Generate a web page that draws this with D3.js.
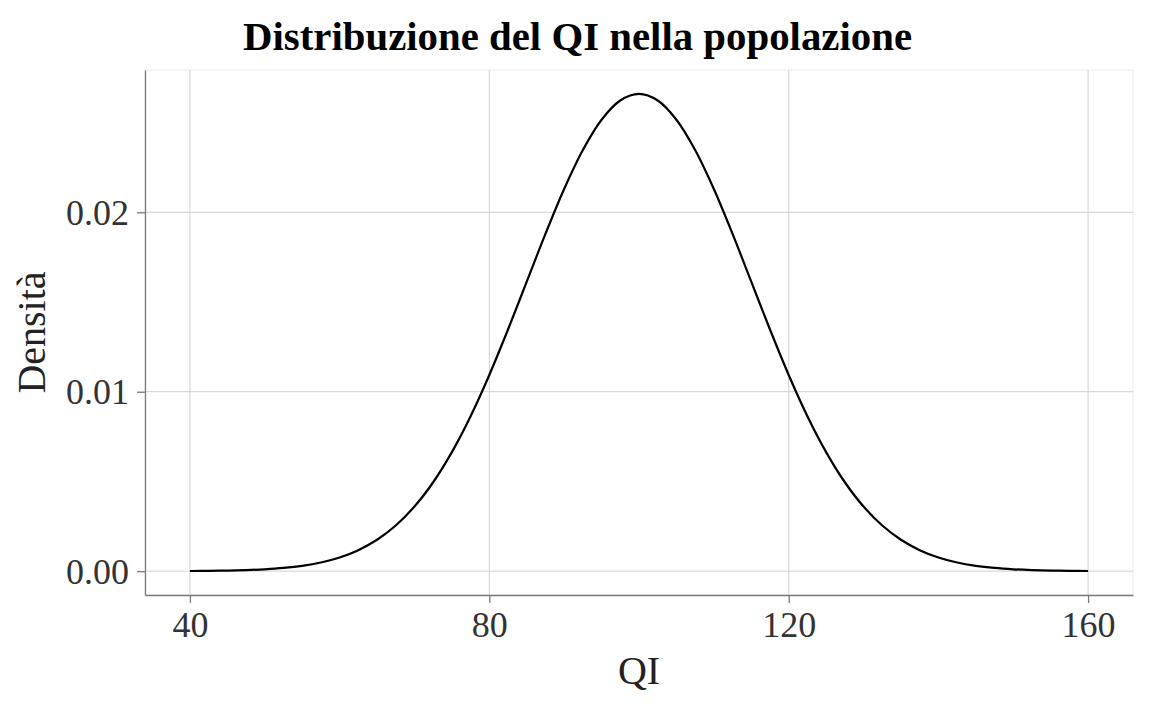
<!DOCTYPE html>
<html><head><meta charset="utf-8">
<script src="https://cdn.jsdelivr.net/npm/d3@7"></script>
<style>body{margin:0;background:#fff}svg{display:block}</style>
</head><body>
<script>
// Data
const qi = [40,42.5,45,47.5,50,52.5,55,57.5,60,62.5,65,67.5,70,72.5,75,77.5,80,82.5,85,87.5,90,92.5,95,97.5,100,
            102.5,105,107.5,110,112.5,115,117.5,120,122.5,125,127.5,130,132.5,135,137.5,140,142.5,145,147.5,150,152.5,155,157.5,160];
const densLeft = [0.0000089,0.0000171,0.0000320,0.0000582,0.000103,0.000177,0.000295,0.000480,0.000760,0.001169,0.001748,0.002543,
                  0.003599,0.004954,0.006632,0.008634,0.010934,0.013466,0.016131,0.018794,0.021297,0.023471,0.025159,0.026229,0.026596];
const densRight = densLeft.slice(0,24).reverse();
const densita = densLeft.concat(densRight);
const xTicks = [40,80,120,160];
const yTicks = [0,0.01,0.02];
const titolo = "Distribuzione del QI nella popolazione";
const xLab = "QI", yLab = "Densità";

const W=1152,H=711;
const m={l:145,r:19,t:70,b:116};
const svg=d3.select("body").append("svg").attr("width",W).attr("height",H);
const x=d3.scaleLinear().domain([34,166]).range([m.l,W-m.r]);
const y=d3.scaleLinear().domain([-0.00133,0.02793]).range([H-m.b,m.t]);
const font="'Liberation Serif','DejaVu Serif',serif";

// panel border (light)
svg.append("rect").attr("x",m.l).attr("y",m.t).attr("width",W-m.r-m.l).attr("height",H-m.b-m.t)
  .attr("fill","none").attr("stroke","#ebebeb").attr("stroke-width",1);
// grid
const g=svg.append("g");
g.selectAll(".vx").data(xTicks).join("line").attr("x1",d=>x(d)).attr("x2",d=>x(d))
  .attr("y1",m.t).attr("y2",H-m.b).attr("stroke","#d0d0d0").attr("stroke-width",1);
g.selectAll(".hy").data(yTicks).join("line").attr("y1",d=>y(d)).attr("y2",d=>y(d))
  .attr("x1",m.l).attr("x2",W-m.r).attr("stroke","#d0d0d0").attr("stroke-width",1);

// axes
const xa=svg.append("g").attr("transform",`translate(0,${H-m.b})`)
  .call(d3.axisBottom(x).tickValues(xTicks).tickFormat(d3.format("d")).tickSize(8).tickPadding(8).tickSizeOuter(0));
const ya=svg.append("g").attr("transform",`translate(${m.l},0)`)
  .call(d3.axisLeft(y).tickValues(yTicks).tickFormat(d3.format(".2f")).tickSize(8).tickPadding(8).tickSizeOuter(0));
[xa,ya].forEach(a=>{
  a.select(".domain").attr("stroke","#7a7a7a").attr("stroke-width",1.3);
  a.selectAll(".tick line").attr("stroke","#7a7a7a").attr("stroke-width",1.3);
  a.selectAll(".tick text").attr("fill","#333").style("font-family",font).style("font-size","36px");
});
xa.selectAll(".tick text").attr("dy","0.71em");
ya.selectAll(".tick text").attr("dy","0.33em");

// curve
svg.append("path").datum(qi.map((q,i)=>[q,densita[i]]))
  .attr("d",d3.line().x(d=>x(d[0])).y(d=>y(d[1])).curve(d3.curveCatmullRom))
  .attr("fill","none").attr("stroke","#000").attr("stroke-width",2.2);

// labels
svg.append("text").attr("x",577.5).attr("y",50).attr("text-anchor","middle")
  .attr("textLength",669).attr("lengthAdjust","spacingAndGlyphs")
  .style("font-family",font).style("font-weight","bold").style("font-size","39px").attr("fill","#000").text(titolo);
svg.append("text").attr("x",x(100)).attr("y",684).attr("text-anchor","middle")
  .style("font-family",font).style("font-size","40px").attr("fill","#222").text(xLab);
svg.append("text").attr("transform",`translate(45,${(m.t+H-m.b)/2}) rotate(-90)`).attr("text-anchor","middle")
  .style("font-family",font).style("font-size","40px").attr("fill","#222").text(yLab);
</script>
</body></html>
